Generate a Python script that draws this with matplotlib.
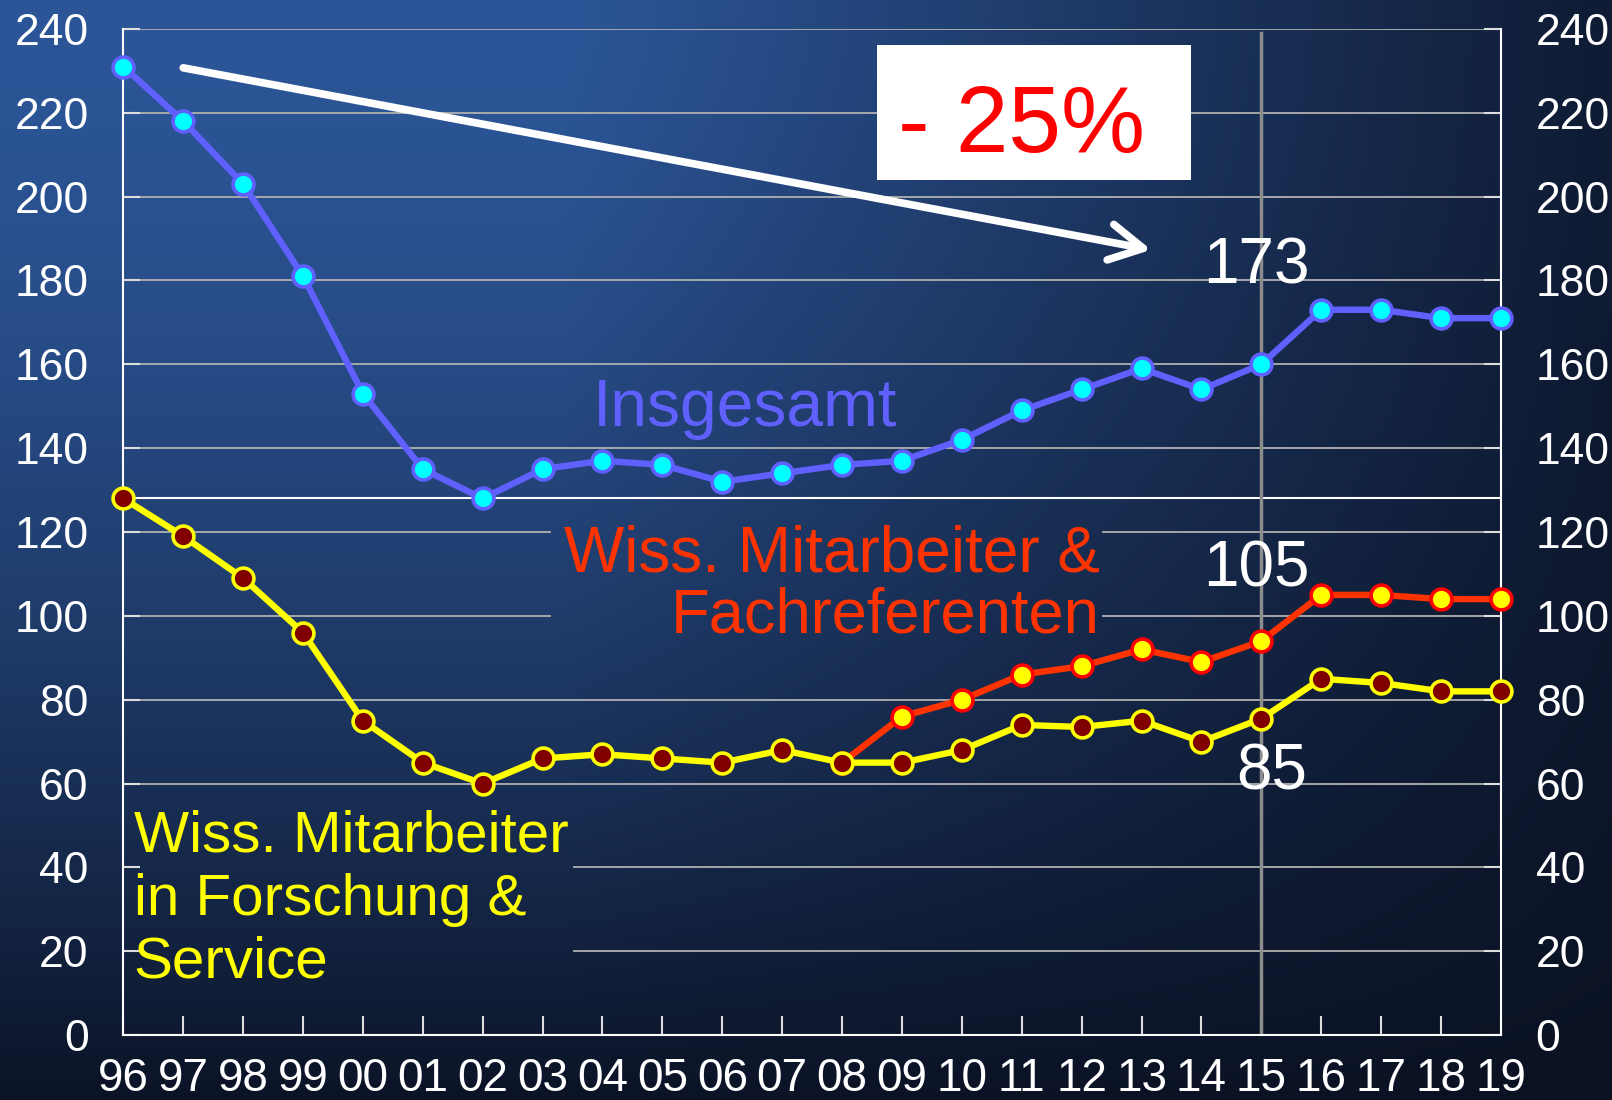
import numpy as np
import matplotlib
matplotlib.use('Agg')
from matplotlib import pyplot as plt
from matplotlib.patches import Rectangle

plt.rcParams['font.family'] = ['Liberation Sans', 'DejaVu Sans']

# Daten
years = list(range(1996, 2020))
year_labels = [f"{y % 100:02d}" for y in years]
insgesamt = [231, 218, 203, 181, 153, 135, 128, 135, 137, 136, 132, 134,
             136, 137, 142, 149, 154, 159, 154, 160, 173, 173, 171, 171]
forschung = [128, 119, 109, 96, 75, 65, 60, 66, 67, 66, 65, 68,
             65, 65, 68, 74, 73.5, 75, 70, 75.5, 85, 84, 82, 82]
fach_years = years[12:]
fachreferenten = [65, 76, 80, 86, 88, 92, 89, 94, 105, 105, 104, 104]
y_ticks = list(range(0, 241, 20))

W, H = 1612, 1100
fig = plt.figure(figsize=(W / 100, H / 100), dpi=100)

# Hintergrund-Verlauf
yy, xx = np.mgrid[0:1:H * 1j, 0:1:W * 1j]
fv = 1 - 0.97 * yy ** 1.6
fh = np.clip(1 - 0.85 * (xx - 0.35) / 0.65, 0.15, 1)
f = (fv * fh)[..., None]
light = np.array([44, 86, 152]) / 255
dark = np.array([10, 17, 34]) / 255
img = dark + (light - dark) * f
bg = fig.add_axes([0, 0, 1, 1])
bg.imshow(img, aspect='auto', extent=[0, 1, 0, 1])
bg.axis('off')

ax = fig.add_axes([0.0765, 0.0589, 0.8546, 0.9149])
ax.set_facecolor('none')
ax.set_xlim(1996, 2019)
ax.set_ylim(0, 240)

# Gitterlinien (mit Lücken hinter den Beschriftungen)
grid_kw = dict(color='#b0b0b0', lw=1.3, zorder=1)
for yv in y_ticks[1:]:
    if yv in (100, 120):
        ax.axhline(yv, xmin=0, xmax=0.31, **grid_kw)
        ax.axhline(yv, xmin=0.711, xmax=1, **grid_kw)
    elif yv in (20, 40):
        ax.axhline(yv, xmin=0.327, xmax=1, **grid_kw)
    else:
        ax.axhline(yv, **grid_kw)
ax.axhline(forschung[0], color='white', lw=1.5, zorder=1)
ax.axvline(2015, ymax=0.996, color='#8c8c8c', lw=2.5, zorder=2)

# Linien
mk = dict(marker='o', ms=15, mew=2.6, clip_on=False)
ax.plot(years, insgesamt, color='#6060ff', lw=4.6, mfc='#00ffff',
        mec='#6060ff', zorder=5, **mk)
ax.plot(fach_years, fachreferenten, color='#ff3300', lw=4.6, mfc='#ffff00',
        mec='#ff0000', zorder=5, **mk)
ax.plot(years, forschung, color='#ffff00', lw=4.6, mfc='#800000',
        mec='#ffff00', zorder=6, **mk)

# Achsen
for s in ('left', 'right', 'bottom'):
    ax.spines[s].set_color('white')
    ax.spines[s].set_linewidth(1.5)
ax.spines['top'].set_visible(False)
ax.set_xticks(years)
ax.set_xticklabels(year_labels)
ax.set_yticks(y_ticks)
ax.tick_params(axis='x', direction='in', length=14, width=1.5, color='#dddddd',
               labelsize=33, labelcolor='white', pad=16)
ax.tick_params(axis='y', direction='in', length=12, width=1.5, color='#dddddd',
               labelsize=32, labelcolor='white', pad=25,
               left=True, right=True, labelleft=True, labelright=True)

# Pfeil und -25%
ax.annotate('', xy=(2013.16, 187.3), xytext=(1997.0, 230.7),
            arrowprops=dict(arrowstyle='->,head_length=1.2,head_width=0.65',
                            color='white', lw=5.5, mutation_scale=20,
                            shrinkA=0, shrinkB=0, capstyle='round'),
            zorder=4)
ax.add_patch(Rectangle((0.547, 0.850), 0.228, 0.1337, transform=ax.transAxes,
                       facecolor='white', edgecolor='none', zorder=4))
ax.text(0.562, 0.878, '- 25%', transform=ax.transAxes, color='#ff0000',
        fontsize=68, ha='left', va='baseline', zorder=7)

# Beschriftungen
ax.text(0.7836, 0.7467, '173', transform=ax.transAxes, color='white',
        fontsize=46, va='baseline', zorder=7)
ax.text(0.7836, 0.4454, '105', transform=ax.transAxes, color='white',
        fontsize=46, va='baseline', zorder=7)
ax.text(0.808, 0.2441, '85', transform=ax.transAxes, color='white',
        fontsize=46, va='baseline', zorder=7)
ax.text(0.341, 0.6057, 'Insgesamt', transform=ax.transAxes, color='#6060ff',
        fontsize=47.5, va='baseline', zorder=7)
ax.text(0.709, 0.4607, 'Wiss. Mitarbeiter &', transform=ax.transAxes,
        color='#ff3300', fontsize=46, ha='right', va='baseline', zorder=7)
ax.text(0.709, 0.4004, 'Fachreferenten', transform=ax.transAxes,
        color='#ff3300', fontsize=45.5, ha='right', va='baseline', zorder=7)
for txt, yb in [('Wiss. Mitarbeiter', 0.1828), ('in Forschung &', 0.1195),
                ('Service', 0.0572)]:
    ax.text(0.0075, yb, txt, transform=ax.transAxes, color='#ffff00',
            fontsize=42, va='baseline', zorder=7)

fig.savefig('out.png', dpi=100)
